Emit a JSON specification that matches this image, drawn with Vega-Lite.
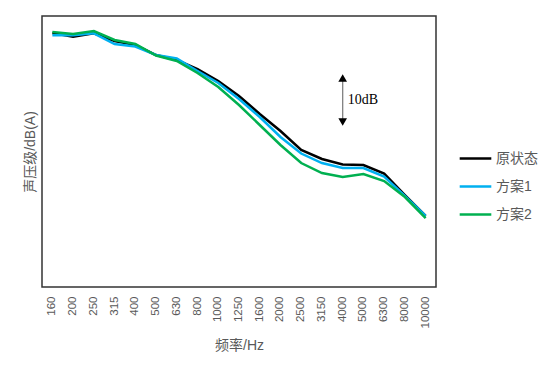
{
  "$schema": "https://vega.github.io/schema/vega-lite/v6.json",
  "width": 394,
  "height": 271,
  "autosize": {"type": "none"},
  "padding": {"left": 42, "top": 16, "right": 118, "bottom": 89},
  "background": "white",
  "config": {
    "font": "Liberation Sans, Noto Sans CJK SC",
    "view": {"stroke": "#333333", "strokeWidth": 1.5},
    "axis": {"grid": false, "domain": false, "ticks": false}
  },
  "datasets": {
    "lines": [
      {"freq": "160", "series": "原状态", "value": 81.55},
      {"freq": "200", "series": "原状态", "value": 80.8},
      {"freq": "250", "series": "原状态", "value": 81.49},
      {"freq": "315", "series": "原状态", "value": 79.93},
      {"freq": "400", "series": "原状态", "value": 79.11},
      {"freq": "500", "series": "原状态", "value": 77.08},
      {"freq": "630", "series": "原状态", "value": 76.07},
      {"freq": "800", "series": "原状态", "value": 74.24},
      {"freq": "1000", "series": "原状态", "value": 71.81},
      {"freq": "1250", "series": "原状态", "value": 68.76},
      {"freq": "1600", "series": "原状态", "value": 65.11},
      {"freq": "2000", "series": "原状态", "value": 61.66},
      {"freq": "2500", "series": "原状态", "value": 57.8},
      {"freq": "3150", "series": "原状态", "value": 55.98},
      {"freq": "4000", "series": "原状态", "value": 54.86},
      {"freq": "5000", "series": "原状态", "value": 54.76},
      {"freq": "6300", "series": "原状态", "value": 53.03},
      {"freq": "8000", "series": "原状态", "value": 48.67},
      {"freq": "10000", "series": "原状态", "value": 44.41},
      {"freq": "160", "series": "方案1", "value": 81.08},
      {"freq": "200", "series": "方案1", "value": 81.08},
      {"freq": "250", "series": "方案1", "value": 81.49},
      {"freq": "315", "series": "方案1", "value": 79.32},
      {"freq": "400", "series": "方案1", "value": 78.81},
      {"freq": "500", "series": "方案1", "value": 77.08},
      {"freq": "630", "series": "方案1", "value": 76.37},
      {"freq": "800", "series": "方案1", "value": 73.84},
      {"freq": "1000", "series": "方案1", "value": 71.4},
      {"freq": "1250", "series": "方案1", "value": 68.15},
      {"freq": "1600", "series": "方案1", "value": 64.5},
      {"freq": "2000", "series": "方案1", "value": 60.44},
      {"freq": "2500", "series": "方案1", "value": 57.09},
      {"freq": "3150", "series": "方案1", "value": 55.16},
      {"freq": "4000", "series": "方案1", "value": 54.15},
      {"freq": "5000", "series": "方案1", "value": 54.15},
      {"freq": "6300", "series": "方案1", "value": 52.42},
      {"freq": "8000", "series": "方案1", "value": 48.47},
      {"freq": "10000", "series": "方案1", "value": 44.41},
      {"freq": "160", "series": "方案2", "value": 81.75},
      {"freq": "200", "series": "方案2", "value": 81.35},
      {"freq": "250", "series": "方案2", "value": 81.96},
      {"freq": "315", "series": "方案2", "value": 80.13},
      {"freq": "400", "series": "方案2", "value": 79.32},
      {"freq": "500", "series": "方案2", "value": 76.98},
      {"freq": "630", "series": "方案2", "value": 75.87},
      {"freq": "800", "series": "方案2", "value": 73.43},
      {"freq": "1000", "series": "方案2", "value": 70.59},
      {"freq": "1250", "series": "方案2", "value": 66.94},
      {"freq": "1600", "series": "方案2", "value": 62.88},
      {"freq": "2000", "series": "方案2", "value": 58.82},
      {"freq": "2500", "series": "方案2", "value": 55.16},
      {"freq": "3150", "series": "方案2", "value": 53.13},
      {"freq": "4000", "series": "方案2", "value": 52.32},
      {"freq": "5000", "series": "方案2", "value": 52.93},
      {"freq": "6300", "series": "方案2", "value": 51.51},
      {"freq": "8000", "series": "方案2", "value": 48.26},
      {"freq": "10000", "series": "方案2", "value": 44.0}
    ],
    "arrow": [
      {"freq": "4000", "lo": 63.5, "hi": 72.4, "mid": 68.0, "label": "10dB"}
    ]
  },
  "layer": [
    {
      "data": {"name": "lines"},
      "mark": {"type": "line", "strokeWidth": 2.5},
      "encoding": {
        "x": {
          "field": "freq",
          "type": "nominal",
          "scale": {"domain": ["160","200","250","315","400","500","630","800","1000","1250","1600","2000","2500","3150","4000","5000","6300","8000","10000"]},
          "axis": {
            "title": "频率/Hz",
            "labelAngle": -90,
            "labelFontSize": 11.5,
            "labelColor": "#595959",
            "labelPadding": 9,
            "titleFontSize": 14,
            "titleFontWeight": "normal",
            "titleColor": "#595959",
            "titleY": 58,
            "titleBaseline": "middle"
          }
        },
        "y": {
          "field": "value",
          "type": "quantitative",
          "scale": {"domain": [30, 85], "nice": false, "zero": false},
          "axis": {
            "title": "声压级/dB(A)",
            "labels": false,
            "titleFontSize": 14,
            "titleFontWeight": "normal",
            "titleColor": "#595959",
            "titleAngle": 270,
            "titleX": -12,
            "titleY": 135.5,
            "titleAlign": "center",
            "titleBaseline": "middle"
          }
        },
        "color": {
          "field": "series",
          "type": "nominal",
          "scale": {"domain": ["原状态", "方案1", "方案2"], "range": ["#000000", "#00B0F0", "#00B050"]},
          "legend": {
            "title": null,
            "orient": "none",
            "legendX": 416,
            "legendY": 125,
            "symbolType": "stroke",
            "symbolSize": 1000,
            "symbolStrokeWidth": 2.5,
            "labelFontSize": 14,
            "labelColor": "#595959",
            "labelOffset": 3,
            "rowPadding": 3
          }
        }
      }
    },
    {
      "data": {"name": "arrow"},
      "mark": {"type": "rule", "color": "#808080", "strokeWidth": 1.3},
      "encoding": {
        "x": {"field": "freq", "type": "nominal"},
        "y": {"field": "lo", "type": "quantitative"},
        "y2": {"field": "hi"}
      }
    },
    {
      "data": {"name": "arrow"},
      "mark": {"type": "point", "shape": "triangle-up", "filled": true, "color": "#000000", "size": 75, "opacity": 1},
      "encoding": {
        "x": {"field": "freq", "type": "nominal"},
        "y": {"field": "hi", "type": "quantitative"}
      }
    },
    {
      "data": {"name": "arrow"},
      "mark": {"type": "point", "shape": "triangle-down", "filled": true, "color": "#000000", "size": 75, "opacity": 1},
      "encoding": {
        "x": {"field": "freq", "type": "nominal"},
        "y": {"field": "lo", "type": "quantitative"}
      }
    },
    {
      "data": {"name": "arrow"},
      "mark": {"type": "text", "align": "left", "baseline": "middle", "dx": 5, "font": "Liberation Serif", "fontSize": 14, "color": "#000000"},
      "encoding": {
        "x": {"field": "freq", "type": "nominal"},
        "y": {"field": "mid", "type": "quantitative"},
        "text": {"field": "label"}
      }
    }
  ]
}
